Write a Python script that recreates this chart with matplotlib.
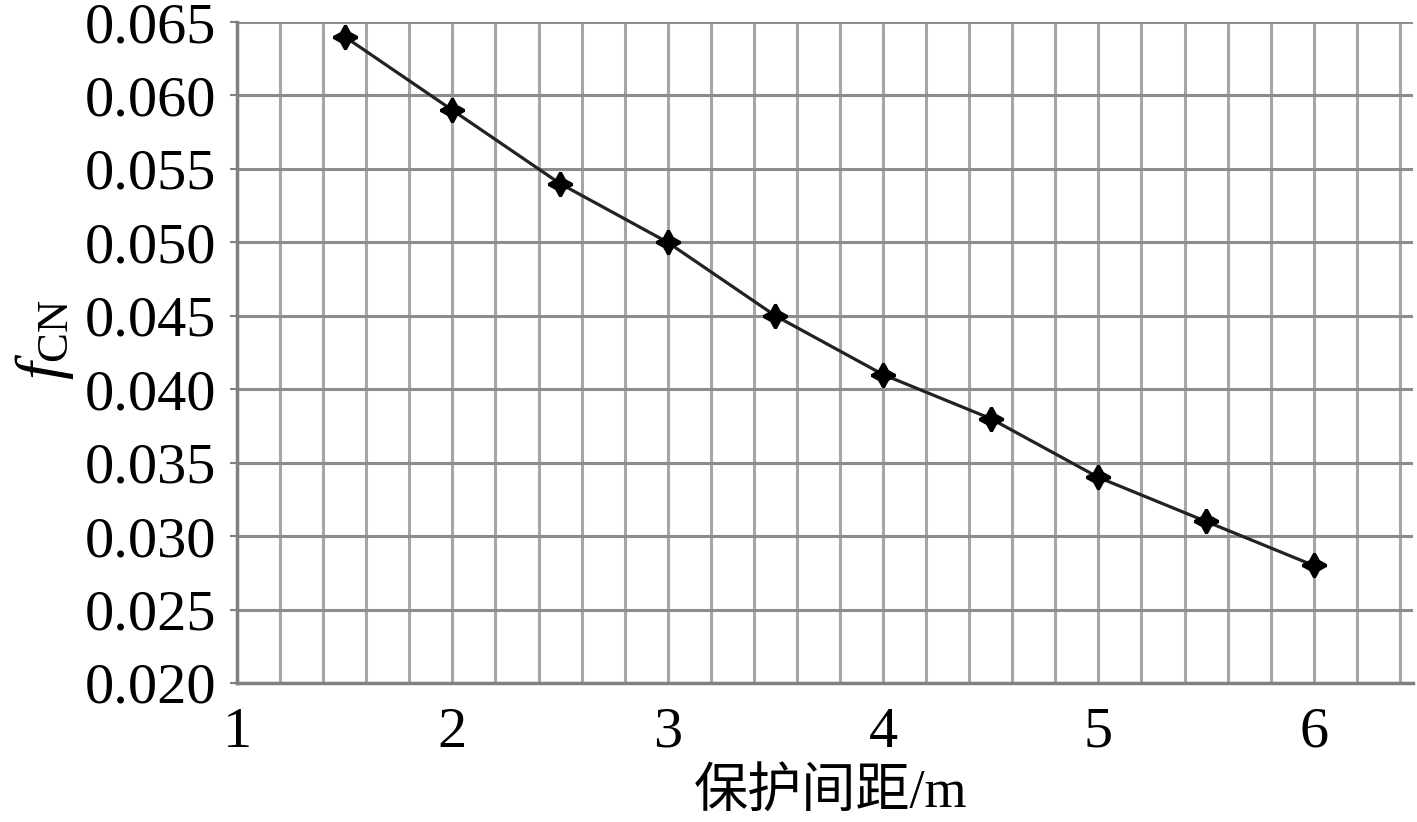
import matplotlib
matplotlib.use("Agg")
import matplotlib.pyplot as plt
import numpy as np

spacing = [1.5, 2.0, 2.5, 3.0, 3.5, 4.0, 4.5, 5.0, 5.5, 6.0]
f_cn = [0.064, 0.059, 0.054, 0.050, 0.045, 0.041, 0.038, 0.034, 0.031, 0.028]
xticks = [1, 2, 3, 4, 5, 6]
yticks = [0.020, 0.025, 0.030, 0.035, 0.040, 0.045, 0.050, 0.055, 0.060, 0.065]
ytick_labels = ["0.020", "0.025", "0.030", "0.035", "0.040", "0.045", "0.050", "0.055", "0.060", "0.065"]

plt.rcParams['font.family'] = ['Liberation Serif', 'Noto Sans CJK SC', 'DejaVu Sans']
plt.rcParams['mathtext.fontset'] = 'custom'
plt.rcParams['mathtext.rm'] = 'Liberation Serif'
plt.rcParams['mathtext.it'] = 'Liberation Serif:italic'

fig = plt.figure(figsize=(14.17, 8.22), dpi=100)
ax = fig.add_axes([0.1673, 0.1691, 0.8297, 0.8041])

ax.set_xlim(1, 6.46)
ax.set_ylim(0.020, 0.065)

ax.set_xticks(np.arange(1, 6.47, 0.2), minor=True)
ax.set_xticks(xticks)
ax.set_xticklabels([str(v) for v in xticks])
ax.set_yticks(yticks)
ax.set_yticklabels(ytick_labels)

ax.grid(True, axis='x', which='both', color='#a6a6a6', linewidth=2.2)
ax.grid(True, axis='y', which='major', color='#8c8c8c', linewidth=2.2)
ax.set_axisbelow(True)

for s in ['top', 'right']:
    ax.spines[s].set_visible(False)
for s in ['left', 'bottom']:
    ax.spines[s].set_color('#808080')
    ax.spines[s].set_linewidth(2.5)

ax.tick_params(axis='x', which='both', length=0, labelsize=42, pad=17)
ax.tick_params(axis='y', which='both', length=5, width=1.5, color='#808080', labelsize=42, pad=10)

ax.plot(spacing, f_cn, color='#222222', linewidth=2.3,
        marker=(4, 1, 0), markersize=17, markerfacecolor='black', markeredgecolor='black',
        markeredgewidth=2.2, zorder=3)

ax.set_xlabel('保护间距/m', fontsize=39, family=['Liberation Serif', 'Noto Sans CJK SC'])
ax.xaxis.set_label_coords(0.505, -0.131)
ax.set_ylabel(r'$f_{\mathrm{CN}}$', fontsize=46, labelpad=6)
ax.yaxis.set_label_coords(-0.137, 0.52)

fig.savefig('out.png', dpi=100)
